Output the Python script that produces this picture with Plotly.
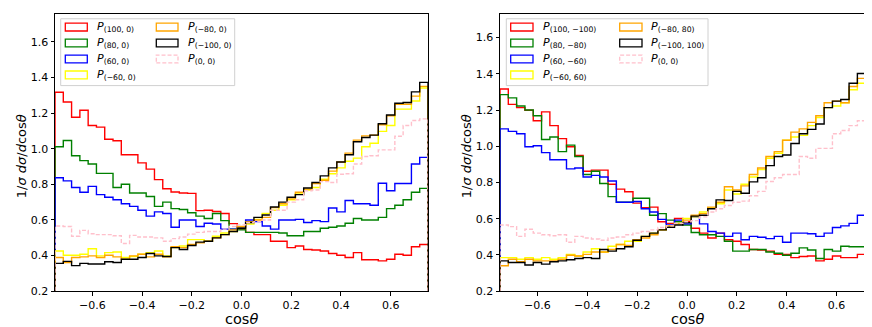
import numpy as np
import plotly.graph_objects as go

# bin edges of the cos(theta) histograms (45 bins)
edges = np.linspace(-0.75, 0.75, 46)

# Left panel: P(x, 0)
red_l = [1.317, 1.262, 1.176, 1.216, 1.13, 1.121, 1.053, 1.044, 0.966, 0.966, 0.92, 0.885, 0.826, 0.775, 0.757,
         0.751, 0.749, 0.652, 0.654, 0.647, 0.636, 0.579, 0.548, 0.53, 0.517, 0.517, 0.48, 0.48, 0.444, 0.453,
         0.434, 0.431, 0.425, 0.411, 0.401, 0.389, 0.416, 0.376, 0.376, 0.37, 0.379, 0.407, 0.401, 0.449, 0.462]
green_l = [1.011, 1.046, 0.96, 0.933, 0.914, 0.861, 0.861, 0.782, 0.8, 0.751, 0.751, 0.731, 0.676, 0.7, 0.663,
           0.658, 0.64, 0.621, 0.608, 0.636, 0.596, 0.548, 0.544, 0.53, 0.53, 0.53, 0.53, 0.526, 0.511, 0.511,
           0.535, 0.535, 0.553, 0.559, 0.566, 0.581, 0.608, 0.599, 0.599, 0.614, 0.663, 0.682, 0.713, 0.755, 0.777]
blue_l = [0.837, 0.819, 0.782, 0.755, 0.788, 0.742, 0.727, 0.713, 0.691, 0.676, 0.654, 0.621, 0.645, 0.636, 0.559,
          0.599, 0.599, 0.563, 0.581, 0.577, 0.548, 0.548, 0.559, 0.599, 0.59, 0.566, 0.548, 0.599, 0.599, 0.603,
          0.585, 0.596, 0.59, 0.667, 0.645, 0.709, 0.691, 0.691, 0.682, 0.806, 0.764, 0.804, 0.804, 0.914, 0.951]
yellow_l = [0.425, 0.401, 0.401, 0.407, 0.438, 0.398, 0.416, 0.42, 0.389, 0.394, 0.407, 0.416, 0.425, 0.398, 0.444,
            0.453, 0.489, 0.489, 0.48, 0.508, 0.526, 0.535, 0.553, 0.577, 0.603, 0.636, 0.654, 0.682, 0.713, 0.746,
            0.768, 0.782, 0.828, 0.859, 0.892, 0.929, 0.947, 1.011, 1.03, 1.097, 1.13, 1.222, 1.222, 1.268, 1.341]
orange_l = [0.389, 0.361, 0.389, 0.392, 0.398, 0.389, 0.401, 0.392, 0.379, 0.398, 0.407, 0.392, 0.407, 0.392, 0.449,
            0.444, 0.462, 0.471, 0.48, 0.499, 0.517, 0.544, 0.563, 0.59, 0.599, 0.614, 0.669, 0.691, 0.718, 0.755,
            0.773, 0.804, 0.823, 0.874, 0.925, 0.975, 1.048, 1.072, 1.076, 1.134, 1.185, 1.249, 1.249, 1.295, 1.35]
black_l = [0.356, 0.367, 0.343, 0.356, 0.352, 0.352, 0.365, 0.361, 0.379, 0.379, 0.389, 0.411, 0.398, 0.394, 0.444,
           0.434, 0.456, 0.475, 0.48, 0.499, 0.517, 0.535, 0.553, 0.585, 0.614, 0.627, 0.672, 0.7, 0.727, 0.742,
           0.779, 0.81, 0.847, 0.892, 0.925, 0.966, 1.039, 1.063, 1.076, 1.14, 1.189, 1.255, 1.259, 1.319, 1.372]
pink_l = [0.566, 0.563, 0.508, 0.541, 0.522, 0.517, 0.517, 0.511, 0.467, 0.513, 0.504, 0.504, 0.499, 0.48, 0.495,
          0.504, 0.52, 0.53, 0.535, 0.535, 0.548, 0.563, 0.572, 0.585, 0.59, 0.599, 0.654, 0.654, 0.7, 0.713,
          0.764, 0.768, 0.815, 0.81, 0.856, 0.859, 0.914, 0.956, 0.96, 0.993, 0.993, 1.07, 1.13, 1.158, 1.167]

# Right panel: P(x, -x)
red_r = [1.316, 1.231, 1.213, 1.199, 1.141, 1.19, 1.114, 1.042, 0.997, 0.949, 0.862, 0.868, 0.868, 0.79, 0.763,
         0.749, 0.686, 0.661, 0.664, 0.583, 0.574, 0.601, 0.583, 0.547, 0.52, 0.493, 0.52, 0.484, 0.475, 0.457,
         0.43, 0.427, 0.421, 0.403, 0.403, 0.385, 0.391, 0.394, 0.367, 0.376, 0.394, 0.385, 0.385, 0.403, 0.461]
green_r = [1.285, 1.267, 1.222, 1.2, 1.168, 1.037, 1.051, 0.97, 1.006, 0.943, 0.844, 0.862, 0.794, 0.722, 0.691,
           0.691, 0.713, 0.713, 0.619, 0.628, 0.592, 0.583, 0.565, 0.524, 0.511, 0.511, 0.502, 0.475, 0.421, 0.421,
           0.43, 0.43, 0.416, 0.409, 0.398, 0.409, 0.439, 0.427, 0.38, 0.43, 0.421, 0.448, 0.445, 0.445, 0.493]
blue_r = [1.096, 1.082, 1.069, 0.997, 1.003, 0.965, 0.925, 0.925, 0.875, 0.88, 0.83, 0.839, 0.83, 0.808, 0.691,
          0.691, 0.695, 0.655, 0.637, 0.596, 0.565, 0.592, 0.571, 0.61, 0.571, 0.529, 0.52, 0.502, 0.52, 0.484,
          0.502, 0.497, 0.49, 0.502, 0.47, 0.52, 0.52, 0.517, 0.502, 0.52, 0.551, 0.56, 0.574, 0.619, 0.632]
yellow_r = [0.385, 0.385, 0.376, 0.385, 0.376, 0.385, 0.376, 0.385, 0.403, 0.394, 0.416, 0.434, 0.416, 0.448, 0.457,
            0.475, 0.475, 0.502, 0.52, 0.538, 0.56, 0.574, 0.601, 0.61, 0.637, 0.659, 0.682, 0.758, 0.736, 0.79,
            0.83, 0.871, 0.934, 0.961, 1.033, 1.051, 1.06, 1.114, 1.159, 1.213, 1.222, 1.24, 1.312, 1.348, 1.384]
orange_r = [0.34, 0.376, 0.362, 0.376, 0.367, 0.367, 0.367, 0.376, 0.398, 0.394, 0.403, 0.416, 0.416, 0.43, 0.457,
            0.452, 0.484, 0.493, 0.511, 0.538, 0.56, 0.571, 0.592, 0.619, 0.628, 0.664, 0.691, 0.776, 0.758, 0.781,
            0.844, 0.88, 0.943, 0.97, 1.033, 1.078, 1.096, 1.132, 1.168, 1.24, 1.249, 1.24, 1.33, 1.375, 1.366]
black_r = [0.367, 0.358, 0.358, 0.344, 0.358, 0.349, 0.362, 0.367, 0.373, 0.38, 0.385, 0.38, 0.43, 0.421, 0.434,
           0.445, 0.481, 0.502, 0.52, 0.538, 0.553, 0.565, 0.578, 0.614, 0.619, 0.655, 0.704, 0.7, 0.751, 0.74,
           0.803, 0.826, 0.893, 0.943, 0.952, 1.015, 1.069, 1.093, 1.123, 1.213, 1.249, 1.258, 1.348, 1.402, 1.402]
pink_r = [0.565, 0.556, 0.502, 0.542, 0.52, 0.511, 0.506, 0.511, 0.47, 0.502, 0.493, 0.488, 0.481, 0.493, 0.499,
          0.511, 0.52, 0.529, 0.538, 0.551, 0.56, 0.574, 0.583, 0.589, 0.61, 0.637, 0.655, 0.673, 0.691, 0.697,
          0.727, 0.751, 0.805, 0.826, 0.844, 0.844, 0.943, 0.934, 0.988, 0.988, 1.069, 1.087, 1.114, 1.141, 1.154]

labels_l = ['(100, 0)', '(80, 0)', '(60, 0)', '(−60, 0)', '(−80, 0)', '(−100, 0)', '(0, 0)']
labels_r = ['(100, −100)', '(80, −80)', '(60, −60)', '(−60, 60)', '(−80, 80)', '(−100, 100)', '(0, 0)']
colors = ['red', 'green', 'blue', 'yellow', 'orange', 'black', 'pink']
dashes = ['solid'] * 6 + ['4px,2px']

x_ticks = [-0.6, -0.4, -0.2, 0.0, 0.2, 0.4, 0.6]
y_ticks = [0.2, 0.4, 0.6, 0.8, 1.0, 1.2, 1.4, 1.6]
x_title = 'cos<i>θ</i>'
y_title = '1/<i>σ</i> <i>dσ</i>/<i>d</i>cos<i>θ</i>'

W, H = 872, 327
def px(x): return x / W
def py(y): return 1 - y / H

def step_xy(vals):
    x = [edges[0]] + list(edges[:-1]) + [edges[-1], edges[-1]]
    y = [0] + list(vals) + [vals[-1], 0]
    return x, y

fig = go.Figure()
panels = [
    ([red_l, green_l, blue_l, yellow_l, orange_l, black_l, pink_l], labels_l, 'x', 'y'),
    ([red_r, green_r, blue_r, yellow_r, orange_r, black_r, pink_r], labels_r, 'x2', 'y2'),
]
for series, labels, xa, ya in panels:
    for vals, lab, col, dash in zip(series, labels, colors, dashes):
        x, y = step_xy(vals)
        fig.add_trace(go.Scatter(x=x, y=y, mode='lines', line_shape='hv', name='P' + lab,
                                 line=dict(color=col, width=1.4, dash=dash),
                                 xaxis=xa, yaxis=ya, showlegend=False))

axis_font = dict(family='DejaVu Sans', size=11, color='black')
common_x = dict(range=[-0.75, 0.75], tickvals=x_ticks, tickformat='.1f', ticks='outside', ticklen=3.5,
                tickwidth=1, tickcolor='black', showline=True, mirror=True, linecolor='black', linewidth=1,
                showgrid=False, zeroline=False, tickfont=axis_font)
common_y = dict(tickvals=y_ticks, tickformat='.1f', ticks='outside', ticklen=3.5, tickwidth=1, tickcolor='black',
                showline=True, mirror=True, linecolor='black', linewidth=1, showgrid=False, zeroline=False,
                tickfont=axis_font)

fig.update_layout(
    width=W, height=H, margin=dict(l=0, r=0, t=0, b=0),
    paper_bgcolor='white', plot_bgcolor='white',
    xaxis=dict(domain=[px(47), px(420)], anchor='y', **common_x),
    yaxis=dict(domain=[py(289.3), py(6)], anchor='x', range=[0.2, 1.757], **common_y),
    xaxis2=dict(domain=[px(492), px(866)], anchor='y2', **common_x),
    yaxis2=dict(domain=[py(289.3), py(6)], anchor='x2', range=[0.2, 1.731], **common_y),
)

# axis titles
title_font = dict(family='DejaVu Sans', size=14.5, color='black')
for xc, yt_x in [((47 + 420) / 2, 13.5), ((492 + 866) / 2, 458.5)]:
    fig.add_annotation(xref='paper', yref='paper', x=px(xc), y=py(317.5), text=x_title, showarrow=False,
                       xanchor='center', yanchor='middle', font=title_font)
    fig.add_annotation(xref='paper', yref='paper', x=px(yt_x), y=py(152), text=y_title, showarrow=False,
                       textangle=-90, xanchor='center', yanchor='middle',
                       font=dict(family='DejaVu Sans', size=13, color='black'))

# hand-drawn legend boxes (matplotlib style: outlined rectangles, two columns)
legend_specs = [
    (labels_l, (52.7, 226.7), [(57.3, 79.3, 86.5), (148.3, 170.0, 177.5)]),
    (labels_r, (498.3, 700.0), [(502.7, 525.0, 532.5), (611.7, 634.0, 641.0)]),
]
row_y = [19.5, 35.8, 52.1, 68.4]
for labels, (bx0, bx1), cols in legend_specs:
    fig.add_shape(type='rect', xref='paper', yref='paper', x0=px(bx0), x1=px(bx1), y0=py(79.3), y1=py(11),
                  line=dict(color='#d0d0d0', width=1), fillcolor='rgba(255,255,255,0.85)', layer='above')
    for i, (lab, col, dash) in enumerate(zip(labels, colors, dashes)):
        c = 0 if i < 4 else 1
        r = i if i < 4 else i - 4
        sx0, sx1, tx = cols[c]
        yc = row_y[r]
        fig.add_shape(type='rect', xref='paper', yref='paper', x0=px(sx0), x1=px(sx1),
                      y0=py(yc + 4), y1=py(yc - 4), line=dict(color=col, width=1.3, dash=dash),
                      fillcolor='rgba(0,0,0,0)', layer='above')
        fig.add_annotation(xref='paper', yref='paper', x=px(tx), y=py(yc), xanchor='left', yanchor='middle',
                           text='<i>P</i><sub>' + lab + '</sub>', showarrow=False,
                           font=dict(family='DejaVu Sans', size=11, color='black'))

fig.write_html("out.html")
